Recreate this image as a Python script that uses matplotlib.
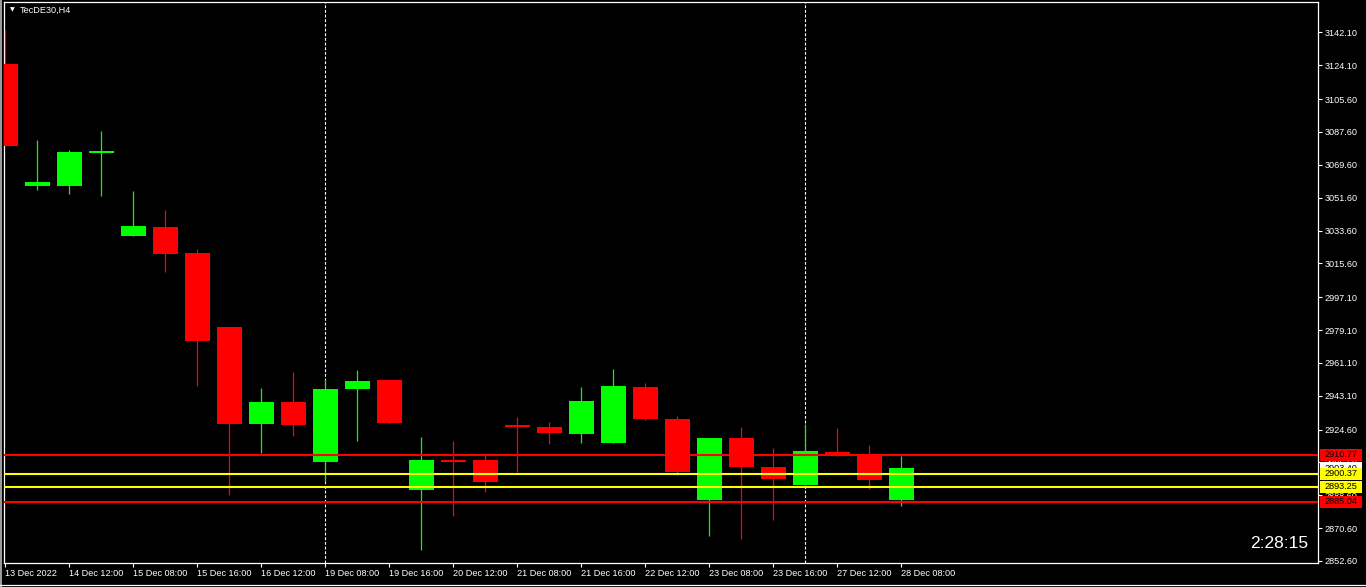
import matplotlib
matplotlib.use("Agg")
import matplotlib.pyplot as plt
from matplotlib.patches import Rectangle
from matplotlib.lines import Line2D
import matplotlib.transforms as mtransforms

# ---------------- data ----------------
symbol = "TecDE30,H4"
timer_text = "2:28:15"

opens = [3124.8, 3058.0, 3058.0, 3076.1, 3030.6, 3035.6, 3021.3, 2980.8, 2927.6, 2939.7,
         2906.8, 2946.8, 2951.7, 2891.5, 2907.9, 2907.9, 2927.1, 2926.0, 2922.1, 2917.2,
         2947.9, 2930.4, 2886.0, 2920.0, 2904.1, 2894.2, 2912.3, 2910.1, 2886.0]
highs = [3143.5, 3083.2, 3077.7, 3088.1, 3055.3, 3044.9, 3023.5, 2980.8, 2947.4, 2956.1,
         2952.3, 2957.2, 2951.7, 2920.5, 2918.3, 2910.6, 2931.5, 2928.7, 2947.9, 2957.8,
         2950.1, 2932.0, 2920.0, 2926.0, 2914.5, 2927.6, 2925.4, 2916.1, 2910.1]
lows = [3079.9, 3055.8, 3053.6, 3052.5, 3030.6, 3010.9, 2948.4, 2888.7, 2911.8, 2921.1,
        2895.9, 2918.3, 2928.2, 2858.6, 2877.2, 2890.4, 2901.3, 2916.7, 2917.2, 2917.2,
        2929.8, 2899.7, 2866.3, 2864.6, 2875.0, 2894.2, 2910.1, 2892.0, 2882.7]
closes = [3079.9, 3060.2, 3076.6, 3077.2, 3036.1, 3020.8, 2973.1, 2927.6, 2939.7, 2927.1,
          2946.8, 2951.2, 2928.2, 2907.9, 2906.8, 2895.9, 2926.0, 2922.7, 2940.2, 2948.4,
          2930.4, 2901.3, 2920.0, 2904.1, 2897.5, 2912.8, 2910.1, 2897.0, 2903.4]

time_labels = ["13 Dec 2022", "14 Dec 12:00", "15 Dec 08:00", "15 Dec 16:00", "16 Dec 12:00",
               "19 Dec 08:00", "19 Dec 16:00", "20 Dec 12:00", "21 Dec 08:00", "21 Dec 16:00",
               "22 Dec 12:00", "23 Dec 08:00", "23 Dec 16:00", "27 Dec 12:00", "28 Dec 08:00"]
time_label_idx = [0, 2, 4, 6, 8, 10, 12, 14, 16, 18, 20, 22, 24, 26, 28]
separator_idx = [10, 25]

level_prices = [2910.77, 2900.37, 2893.25, 2885.04]
level_kinds = ["red", "yellow", "yellow", "red"]

price_ticks = [3142.10, 3124.10, 3105.60, 3087.60, 3069.60, 3051.60, 3033.60, 3015.60,
               2997.10, 2979.10, 2961.10, 2943.10, 2924.60, 2906.60, 2888.60, 2870.60, 2852.60]

# ---------------- layout ----------------
W, H = 1366, 587
DPI = 100
BULL = "#00ff00"
BEAR = "#ff0000"
KIND_COLOR = {"red": "#ff0000", "yellow": "#ffff00"}
FONT = "Liberation Sans"
FS = 6.6

fig = plt.figure(figsize=(W / DPI, H / DPI), dpi=DPI, facecolor="black")
ax_l, ax_r, ax_t, ax_b = 4, 1318, 2, 563
ax = fig.add_axes([ax_l / W, (H - ax_b) / H, (ax_r - ax_l) / W, (ax_b - ax_t) / H])
ax.set_facecolor("black")

spacing_px = 32.0
first_px = 5.0
x0 = (ax_l - first_px) / spacing_px
x1 = (ax_r - first_px) / spacing_px
y_top = 3158.8
y_bot = 2851.5
px_per_price = (ax_b - ax_t) / (y_top - y_bot)

body_w = 25 / spacing_px
min_body = 2.0 / px_per_price

for i, (o, h, l, c) in enumerate(zip(opens, highs, lows, closes)):
    col = BULL if c >= o else BEAR
    ax.vlines(i, l, h, color=col, linewidth=0.9, zorder=3)
    ax.bar(i, max(abs(c - o), min_body), bottom=min(o, c), width=body_w,
           color=col, linewidth=0, zorder=4)

for s in separator_idx:
    ax.axvline(s, color="white", linewidth=0.8, linestyle=(0, (2.6, 1.6)), zorder=2)

for p, k in zip(level_prices, level_kinds):
    ax.axhline(p, color=KIND_COLOR[k], linewidth=1.5, zorder=5)

ax.set_xlim(x0, x1)
ax.set_ylim(y_bot, y_top)

for sp in ax.spines.values():
    sp.set_color("white")
    sp.set_linewidth(0.9)

ax.yaxis.tick_right()
ax.set_yticks(price_ticks)
ax.set_yticklabels([f"{v:.2f}" for v in price_ticks])
ax.tick_params(axis="y", colors="white", length=3, width=0.8, pad=1.5,
               labelsize=FS, direction="out")
ax.set_xticks(time_label_idx)
ax.set_xticklabels(time_labels, ha="left")
ax.tick_params(axis="x", colors="white", length=3, width=0.8, pad=1.5,
               labelsize=FS, direction="out")
for lab in ax.get_xticklabels() + ax.get_yticklabels():
    lab.set_fontfamily(FONT)
    lab.set_color("white")

# price boxes on the right scale
trans = mtransforms.blended_transform_factory(fig.transFigure, ax.transData)
box_h = 12 / px_per_price
bx0 = 1320 / W
bw = 42 / W


def price_box(p, face, z):
    ax.add_patch(Rectangle((bx0, p - box_h / 2), bw, box_h, transform=trans,
                           facecolor=face, edgecolor="none", clip_on=False, zorder=z))
    ax.text(bx0 + bw / 2, p, f"{p:.2f}", transform=trans, ha="center", va="center",
            fontsize=FS, fontfamily=FONT, color="black", clip_on=False, zorder=z + 0.5)


price_box(closes[-1], "white", 10)
for n, (p, k) in enumerate(zip(level_prices, level_kinds)):
    price_box(p, KIND_COLOR[k], 11 + n)

# title and timer
fig.text(20 / W, 1 - 10 / H, symbol, color="white", fontsize=FS, fontfamily=FONT,
         ha="left", va="center")
fig.text(12 / W, 1 - 10 / H, "\u25bc", color="white", fontsize=4.5, fontfamily="DejaVu Sans",
         ha="center", va="center")
fig.text(1308 / W, 1 - 544 / H, timer_text, color="white", fontsize=12.5, fontfamily=FONT,
         ha="right", va="center")

# window border
fig.add_artist(Line2D([1 / W, 1 / W], [0, 1], color="#a0a0a0", linewidth=1.4,
                      transform=fig.transFigure))
fig.add_artist(Line2D([0, 1], [1 - 584.5 / H, 1 - 584.5 / H], color="white", linewidth=0.9,
                      transform=fig.transFigure))

fig.savefig("out.png", dpi=DPI, facecolor="black")
